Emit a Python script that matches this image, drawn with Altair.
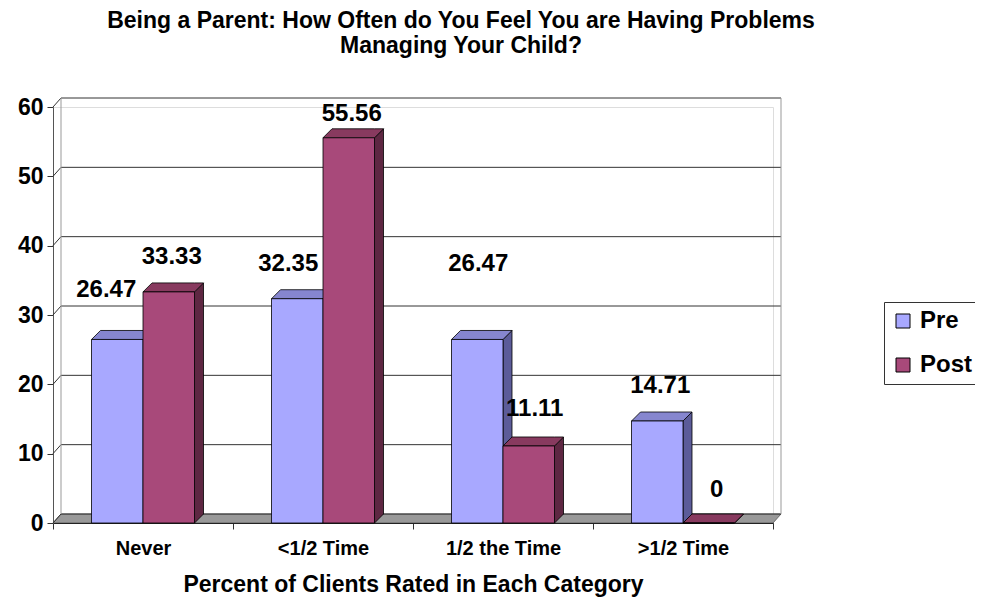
import json
import altair as alt
import pandas as pd

# ---------------- data ----------------
categories = ["Never", "<1/2 Time", "1/2 the Time", ">1/2 Time"]
series = ["Pre", "Post"]
pre_values = [26.47, 32.35, 26.47, 14.71]
post_values = [33.33, 55.56, 11.11, 0]
y_ticks = [0, 10, 20, 30, 40, 50, 60]

title_lines = ["Being a Parent: How Often do You Feel You are Having Problems",
               "Managing Your Child?"]
x_title = "Percent of Clients Rated in Each Category"

# ---------------- styling ----------------
FONT = "Liberation Sans"
W, H = 720, 416
Y_MAX = 60
N = len(categories)
PX_X = W / N            # pixels per category unit
PX_Y = H / Y_MAX        # pixels per value unit
BAR_W = 51.5 / PX_X     # bar width in category units
BDX, BDY = 9 / PX_X, 9 / PX_Y     # bar depth
WDX, WDY = 8 / PX_X, 9 / PX_Y     # wall depth
LABEL_UP = 35                     # label distance above bar (px)
# small per-label nudges (px) reproducing the original label placement
label_nudge = {"Pre": [(-14, -14), (-12, 0), (-2, -40), (0, 0)],
               "Post": [(0, 0), (0, 11), (3, -2), (5, 2)]}

front = {"Pre": "#a8a8ff", "Post": "#a8497a"}
top_c = {"Pre": "#8686cf", "Post": "#883a5f"}
side_c = {"Pre": "#5c5c99", "Post": "#5e2742"}

values = {"Pre": pre_values, "Post": post_values}

xscale = alt.Scale(domain=[0, N], nice=False, zero=False)
yscale = alt.Scale(domain=[0, Y_MAX], nice=False)

label_arr = json.dumps(categories)
xaxis = alt.Axis(
    values=[i * 0.5 for i in range(2 * N + 1)],
    labelExpr=f"datum.value % 1 == 0.5 ? {label_arr}[floor(datum.value)] : ''",
    tickOpacity={"condition": {"test": "datum.value % 1 === 0", "value": 1}, "value": 0},
    grid=False, domainColor="black", tickColor="#333", tickSize=6,
    labelFont=FONT, labelFontSize=20, labelFontWeight="bold", labelColor="black",
    labelPadding=9, labelFlush=False, labelOverlap=False,
    title=x_title, titleFont=FONT, titleFontSize=23, titleFontWeight="bold",
    titleColor="black", titlePadding=15,
)
yaxis = alt.Axis(
    values=y_ticks, grid=False, domainColor="#555", tickColor="#333", tickSize=6,
    labelFont=FONT, labelFontSize=23, labelFontWeight="bold", labelColor="black",
    labelPadding=4, title=None,
)


def X(field):
    return alt.X(field, type="quantitative", scale=xscale, axis=xaxis)


def Y(field):
    return alt.Y(field, type="quantitative", scale=yscale, axis=yaxis)


# ---------------- floor and walls ----------------
floor_df = pd.DataFrame({
    "x": [0, WDX, N, N + WDX],
    "y": [0, 0, 0, WDY],
    "y2": [0, WDY, WDY, WDY],
})
floor = alt.Chart(floor_df).mark_area(
    fill="#999999", stroke="#555", strokeWidth=0.8
).encode(x=X("x"), y=Y("y"), y2="y2")

grid_rows = []
for v in y_ticks:
    for k, (gx, gy) in enumerate([(0, v), (WDX, v + WDY), (N + WDX, v + WDY)]):
        grid_rows.append({"v": v, "k": k, "x": gx, "y": gy})
grid_df = pd.DataFrame(grid_rows)
grid = alt.Chart(grid_df).mark_line(color="#333", strokeWidth=1).encode(
    x=X("x"), y=Y("y"), detail="v:N", order="k:Q"
)

edge_df = pd.DataFrame({
    "e": ["l", "l", "r", "r"],
    "x": [WDX, WDX, N + WDX, N + WDX],
    "y": [WDY, Y_MAX + WDY, WDY, Y_MAX + WDY],
})
edges = alt.Chart(edge_df).mark_line(color="#999", strokeWidth=1).encode(
    x=X("x"), y=Y("y"), detail="e:N"
)

# ---------------- bars ----------------
layers = [floor, grid, edges]
label_rows = []
for si, s in enumerate(series):
    bars, tops, sides = [], [], []
    for i, (cat, v) in enumerate(zip(categories, values[s])):
        x0 = i + 0.5 - BAR_W + si * BAR_W
        x1 = x0 + BAR_W
        bars.append({"series": s, "cat": cat, "x0": x0, "x1": x1, "v": v})
        for xx, ya, yb in [(x0, v, v), (x0 + BDX, v, v + BDY),
                           (x1, v, v + BDY), (x1 + BDX, v + BDY, v + BDY)]:
            tops.append({"cat": cat, "x": xx, "y": ya, "y2": yb})
        for xx, ya, yb in [(x1, 0, v), (x1 + BDX, BDY, v + BDY)]:
            sides.append({"cat": cat, "x": xx, "y": ya, "y2": yb})
        ndx, ndy = label_nudge[s][i]
        label_rows.append({
            "x": x0 + BAR_W / 2 + (3 + ndx) / PX_X,
            "y": v + (LABEL_UP - ndy) / PX_Y,
            "label": f"{v:g}" if v else "0",
        })
    side_layer = alt.Chart(pd.DataFrame(sides)).mark_area(
        fill=side_c[s], stroke="black", strokeWidth=0.8
    ).encode(x=X("x"), y=Y("y"), y2="y2", detail="cat:N")
    top_layer = alt.Chart(pd.DataFrame(tops)).mark_area(
        fill=top_c[s], stroke="black", strokeWidth=0.8
    ).encode(x=X("x"), y=Y("y"), y2="y2", detail="cat:N")
    front_layer = alt.Chart(pd.DataFrame(bars)).mark_bar(
        stroke="black", strokeWidth=0.8, opacity=1
    ).encode(
        x=X("x0"), x2="x1", y=Y("v"), y2=alt.datum(0),
        color=alt.Color(
            "series:N",
            scale=alt.Scale(domain=series, range=[front[k] for k in series]),
            legend=alt.Legend(
                orient="none", legendX=831, legendY=195, title=None,
                labelFont=FONT, labelFontSize=24, labelFontWeight="bold",
                labelColor="black", symbolType="square", symbolSize=196,
                symbolStrokeColor="black", symbolStrokeWidth=1,
                symbolOpacity=1, strokeColor="#333", fillColor="white",
                padding=7, rowPadding=20, labelOffset=5,
            ),
        ),
    )
    layers += [side_layer, top_layer, front_layer]

labels = alt.Chart(pd.DataFrame(label_rows)).mark_text(
    font=FONT, fontSize=24, fontWeight="bold", color="black",
    baseline="middle", align="center"
).encode(x=X("x"), y=Y("y"), text="label:N")
layers.append(labels)

chart = alt.layer(*layers).properties(
    width=W, height=H,
    title=alt.TitleParams(
        text=title_lines, font=FONT, fontSize=23, fontWeight="bold",
        color="black", anchor="middle", dx=48, offset=38, lineHeight=25,
    ),
    autosize=alt.AutoSizeParams(type="none"),
    padding={"left": 45, "top": 99, "right": 202, "bottom": 76},
).configure_view(stroke=None).configure(background="white")

chart.save("out.html", embed_options={"renderer": "svg", "actions": False})
